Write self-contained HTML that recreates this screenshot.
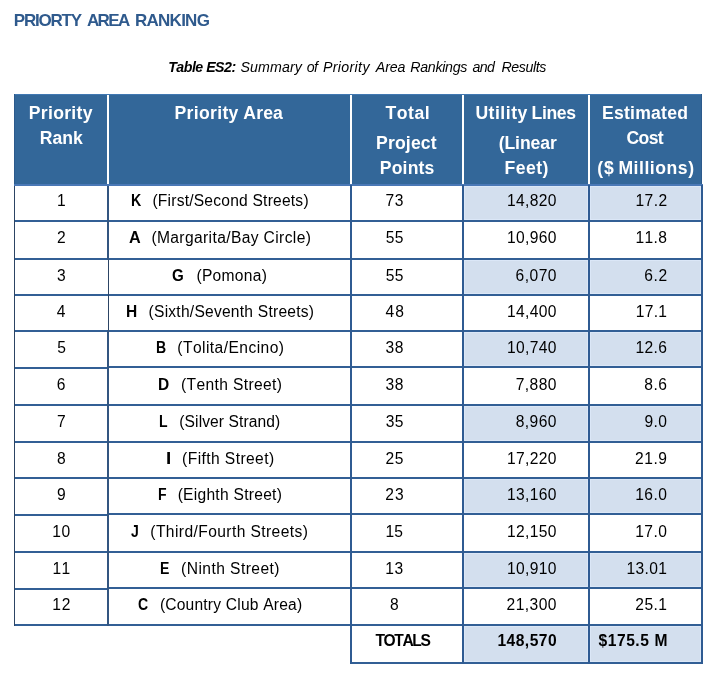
<!DOCTYPE html>
<html lang="en"><head><meta charset="utf-8"><title>Priority Area Ranking</title>
<style>
html,body{margin:0;padding:0;background:#fff}
body{width:715px;height:675px;position:relative;overflow:hidden;font-family:"Liberation Sans",sans-serif}
.b{position:absolute}
.s{background:#d3dfee;box-shadow:inset 0 0 0 1px #dbe7f7}
.t{position:absolute;white-space:pre;line-height:1;font-kerning:none}
</style></head><body>
<div class="b" style="left:14px;top:94px;width:688px;height:90px;background:#336799"></div>
<div class="b" style="left:14px;top:184px;width:689px;height:2px;background:#4a78b6"></div>
<div class="b" style="left:107px;top:94px;width:2px;height:90px;background:#fff"></div>
<div class="b" style="left:350px;top:94px;width:2px;height:90px;background:#fff"></div>
<div class="b" style="left:462px;top:94px;width:2px;height:90px;background:#fff"></div>
<div class="b" style="left:588px;top:94px;width:2px;height:90px;background:#fff"></div>
<div class="b" style="left:14px;top:94px;width:688px;height:1px;background:#4178b2"></div>
<div class="b" style="left:14px;top:94px;width:1px;height:90px;background:#2c5a8c"></div>
<div class="b" style="left:701px;top:94px;width:1px;height:90px;background:#2c5a8c"></div>
<div class="b s" style="left:464px;top:186px;width:124px;height:34px"></div>
<div class="b s" style="left:590px;top:186px;width:111px;height:34px"></div>
<div class="b s" style="left:464px;top:260px;width:124px;height:34px"></div>
<div class="b s" style="left:590px;top:260px;width:111px;height:34px"></div>
<div class="b s" style="left:464px;top:332px;width:124px;height:34px"></div>
<div class="b s" style="left:590px;top:332px;width:111px;height:34px"></div>
<div class="b s" style="left:464px;top:406px;width:124px;height:35px"></div>
<div class="b s" style="left:590px;top:406px;width:111px;height:35px"></div>
<div class="b s" style="left:464px;top:479px;width:124px;height:34px"></div>
<div class="b s" style="left:590px;top:479px;width:111px;height:34px"></div>
<div class="b s" style="left:464px;top:553px;width:124px;height:34px"></div>
<div class="b s" style="left:590px;top:553px;width:111px;height:34px"></div>
<div class="b s" style="left:464px;top:626px;width:124px;height:36px"></div>
<div class="b s" style="left:590px;top:626px;width:111px;height:36px"></div>
<div class="b" style="left:14px;top:220px;width:94px;height:2px;background:#325f95"></div>
<div class="b" style="left:108px;top:220px;width:595px;height:2px;background:#325f95"></div>
<div class="b" style="left:14px;top:258px;width:94px;height:2px;background:#325f95"></div>
<div class="b" style="left:108px;top:258px;width:595px;height:2px;background:#325f95"></div>
<div class="b" style="left:14px;top:294px;width:94px;height:2px;background:#325f95"></div>
<div class="b" style="left:108px;top:294px;width:595px;height:2px;background:#325f95"></div>
<div class="b" style="left:14px;top:330px;width:94px;height:2px;background:#325f95"></div>
<div class="b" style="left:108px;top:330px;width:595px;height:2px;background:#325f95"></div>
<div class="b" style="left:14px;top:367px;width:94px;height:2px;background:#325f95"></div>
<div class="b" style="left:108px;top:366px;width:595px;height:2px;background:#325f95"></div>
<div class="b" style="left:14px;top:404px;width:94px;height:2px;background:#325f95"></div>
<div class="b" style="left:108px;top:404px;width:595px;height:2px;background:#325f95"></div>
<div class="b" style="left:14px;top:441px;width:94px;height:2px;background:#325f95"></div>
<div class="b" style="left:108px;top:441px;width:595px;height:2px;background:#325f95"></div>
<div class="b" style="left:14px;top:477px;width:94px;height:2px;background:#325f95"></div>
<div class="b" style="left:108px;top:477px;width:595px;height:2px;background:#325f95"></div>
<div class="b" style="left:14px;top:514px;width:94px;height:2px;background:#325f95"></div>
<div class="b" style="left:108px;top:513px;width:595px;height:2px;background:#325f95"></div>
<div class="b" style="left:14px;top:551px;width:94px;height:2px;background:#325f95"></div>
<div class="b" style="left:108px;top:551px;width:595px;height:2px;background:#325f95"></div>
<div class="b" style="left:14px;top:588px;width:94px;height:2px;background:#325f95"></div>
<div class="b" style="left:108px;top:587px;width:595px;height:2px;background:#325f95"></div>
<div class="b" style="left:14px;top:624px;width:94px;height:2px;background:#325f95"></div>
<div class="b" style="left:108px;top:624px;width:595px;height:2px;background:#325f95"></div>
<div class="b" style="left:350px;top:662px;width:353px;height:2px;background:#325f95"></div>
<div class="b" style="left:14px;top:186px;width:1px;height:440px;background:#2c4464"></div>
<div class="b" style="left:107px;top:186px;width:2px;height:74px;background:#335580"></div>
<div class="b" style="left:108px;top:260px;width:1px;height:70px;background:#2c4464"></div>
<div class="b" style="left:107px;top:330px;width:2px;height:296px;background:#335580"></div>
<div class="b" style="left:350px;top:185px;width:2px;height:479px;background:#2f5b92"></div>
<div class="b" style="left:462px;top:185px;width:2px;height:479px;background:#2f5b92"></div>
<div class="b" style="left:588px;top:185px;width:2px;height:479px;background:#2f5b92"></div>
<div class="b" style="left:701px;top:185px;width:2px;height:479px;background:#2f5b92"></div>
<span class="t" style="left:13.78px;top:12px;font-size:17.0px;font-weight:700;letter-spacing:-1.217px;color:#2f5a8d">PRIORTY</span>
<span class="t" style="left:86.92px;top:12px;font-size:17.0px;font-weight:700;letter-spacing:-1.632px;color:#2f5a8d">AREA</span>
<span class="t" style="left:134.97px;top:12px;font-size:17.0px;font-weight:700;letter-spacing:-0.735px;color:#2f5a8d">RANKING</span>
<span class="t" style="left:168.20px;top:60px;font-size:14.2px;font-weight:700;font-style:italic;letter-spacing:-0.507px;color:#000">Table ES2:</span>
<span class="t" style="left:240.53px;top:60px;font-size:14.2px;font-style:italic;letter-spacing:0.112px;color:#000">Summary</span>
<span class="t" style="left:306.70px;top:60px;font-size:14.2px;font-style:italic;letter-spacing:-0.507px;color:#000">of</span>
<span class="t" style="left:322.93px;top:60px;font-size:14.2px;font-style:italic;letter-spacing:0.349px;color:#000">Priority</span>
<span class="t" style="left:375.82px;top:60px;font-size:14.2px;font-style:italic;letter-spacing:-0.090px;color:#000">Area</span>
<span class="t" style="left:410.23px;top:60px;font-size:14.2px;font-style:italic;letter-spacing:-0.283px;color:#000">Rankings</span>
<span class="t" style="left:472.55px;top:60px;font-size:14.2px;font-style:italic;letter-spacing:-0.684px;color:#000">and</span>
<span class="t" style="left:501.53px;top:60px;font-size:14.2px;font-style:italic;letter-spacing:-0.405px;color:#000">Results</span>
<span class="t" style="left:28.78px;top:105px;font-size:17.6px;font-weight:700;letter-spacing:0.308px;color:#fff">Priority</span>
<span class="t" style="left:39.78px;top:130px;font-size:17.6px;font-weight:700;letter-spacing:0.013px;color:#fff">Rank</span>
<span class="t" style="left:174.58px;top:105px;font-size:17.6px;font-weight:700;letter-spacing:0.308px;color:#fff">Priority</span>
<span class="t" style="left:243.30px;top:105px;font-size:17.6px;font-weight:700;letter-spacing:0.163px;color:#fff">Area</span>
<span class="t" style="left:385.48px;top:105px;font-size:17.6px;font-weight:700;letter-spacing:0.539px;color:#fff">Total</span>
<span class="t" style="left:376.08px;top:135px;font-size:17.6px;font-weight:700;letter-spacing:0.150px;color:#fff">Project</span>
<span class="t" style="left:379.78px;top:160px;font-size:17.6px;font-weight:700;letter-spacing:0.164px;color:#fff">Points</span>
<span class="t" style="left:475.40px;top:105px;font-size:17.6px;font-weight:700;letter-spacing:0.510px;color:#fff">Utility</span>
<span class="t" style="left:531.58px;top:105px;font-size:17.6px;font-weight:700;letter-spacing:-0.392px;color:#fff">Lines</span>
<span class="t" style="left:498.63px;top:135px;font-size:17.6px;font-weight:700;letter-spacing:-0.062px;color:#fff">(Linear</span>
<span class="t" style="left:504.38px;top:160px;font-size:17.6px;font-weight:700;letter-spacing:0.510px;color:#fff">Feet)</span>
<span class="t" style="left:602.08px;top:105px;font-size:17.6px;font-weight:700;letter-spacing:0.218px;color:#fff">Estimated</span>
<span class="t" style="left:626.45px;top:130px;font-size:17.6px;font-weight:700;letter-spacing:-0.606px;color:#fff">Cost</span>
<span class="t" style="left:597.23px;top:160px;font-size:17.6px;font-weight:700;letter-spacing:1.002px;color:#fff">($</span>
<span class="t" style="left:618.38px;top:160px;font-size:17.6px;font-weight:700;letter-spacing:0.540px;color:#fff">Millions)</span>
<span class="t" style="left:56.97px;top:193px;font-size:15.6px;letter-spacing:0.000px;color:#000">1</span>
<span class="t" style="left:130.99px;top:193px;font-size:15.6px;font-weight:700;transform:scaleX(0.910);transform-origin:0 0;color:#000">K</span>
<span class="t" style="left:152.40px;top:193px;font-size:15.6px;letter-spacing:0.216px;color:#000">(First/Second Streets)</span>
<span class="t" style="left:385.39px;top:193px;font-size:15.6px;letter-spacing:0.800px;color:#000">73</span>
<span class="t" style="left:506.88px;top:193px;font-size:15.6px;letter-spacing:0.395px;color:#000">14,820</span>
<span class="t" style="left:635.51px;top:193px;font-size:15.6px;letter-spacing:0.413px;color:#000">17.2</span>
<span class="t" style="left:56.89px;top:230px;font-size:15.6px;letter-spacing:0.000px;color:#000">2</span>
<span class="t" style="left:129.11px;top:230px;font-size:15.6px;font-weight:700;transform:scaleX(1.040);transform-origin:0 0;color:#000">A</span>
<span class="t" style="left:151.40px;top:230px;font-size:15.6px;letter-spacing:0.374px;color:#000">(Margarita/Bay Circle)</span>
<span class="t" style="left:385.71px;top:230px;font-size:15.6px;letter-spacing:0.289px;color:#000">55</span>
<span class="t" style="left:506.88px;top:230px;font-size:15.6px;letter-spacing:0.395px;color:#000">10,960</span>
<span class="t" style="left:635.51px;top:230px;font-size:15.6px;letter-spacing:0.372px;color:#000">11.8</span>
<span class="t" style="left:57.08px;top:268px;font-size:15.6px;letter-spacing:0.000px;color:#000">3</span>
<span class="t" style="left:172.19px;top:268px;font-size:15.6px;font-weight:700;transform:scaleX(0.971);transform-origin:0 0;color:#000">G</span>
<span class="t" style="left:196.40px;top:268px;font-size:15.6px;letter-spacing:0.294px;color:#000">(Pomona)</span>
<span class="t" style="left:385.71px;top:268px;font-size:15.6px;letter-spacing:0.289px;color:#000">55</span>
<span class="t" style="left:515.53px;top:268px;font-size:15.6px;letter-spacing:0.500px;color:#000">6,070</span>
<span class="t" style="left:644.29px;top:268px;font-size:15.6px;letter-spacing:0.569px;color:#000">6.2</span>
<span class="t" style="left:56.82px;top:304px;font-size:15.6px;letter-spacing:0.000px;color:#000">4</span>
<span class="t" style="left:125.81px;top:304px;font-size:15.6px;font-weight:700;transform:scaleX(0.996);transform-origin:0 0;color:#000">H</span>
<span class="t" style="left:148.60px;top:304px;font-size:15.6px;letter-spacing:0.229px;color:#000">(Sixth/Seventh Streets)</span>
<span class="t" style="left:385.45px;top:304px;font-size:15.6px;letter-spacing:1.068px;color:#000">48</span>
<span class="t" style="left:506.88px;top:304px;font-size:15.6px;letter-spacing:0.395px;color:#000">14,400</span>
<span class="t" style="left:635.64px;top:304px;font-size:15.6px;letter-spacing:0.329px;color:#000">17.1</span>
<span class="t" style="left:57.28px;top:340px;font-size:15.6px;letter-spacing:0.000px;color:#000">5</span>
<span class="t" style="left:155.53px;top:340px;font-size:15.6px;font-weight:700;transform:scaleX(0.900);transform-origin:0 0;color:#000">B</span>
<span class="t" style="left:177.30px;top:340px;font-size:15.6px;letter-spacing:0.442px;color:#000">(Tolita/Encino)</span>
<span class="t" style="left:385.52px;top:340px;font-size:15.6px;letter-spacing:0.675px;color:#000">38</span>
<span class="t" style="left:506.88px;top:340px;font-size:15.6px;letter-spacing:0.395px;color:#000">10,740</span>
<span class="t" style="left:635.38px;top:340px;font-size:15.6px;letter-spacing:0.414px;color:#000">12.6</span>
<span class="t" style="left:56.83px;top:377px;font-size:15.6px;letter-spacing:0.000px;color:#000">6</span>
<span class="t" style="left:158.21px;top:377px;font-size:15.6px;font-weight:700;transform:scaleX(0.994);transform-origin:0 0;color:#000">D</span>
<span class="t" style="left:181.06px;top:377px;font-size:15.6px;letter-spacing:0.358px;color:#000">(Tenth Street)</span>
<span class="t" style="left:385.52px;top:377px;font-size:15.6px;letter-spacing:0.675px;color:#000">38</span>
<span class="t" style="left:515.65px;top:377px;font-size:15.6px;letter-spacing:0.468px;color:#000">7,880</span>
<span class="t" style="left:644.29px;top:377px;font-size:15.6px;letter-spacing:0.508px;color:#000">8.6</span>
<span class="t" style="left:56.89px;top:414px;font-size:15.6px;letter-spacing:0.000px;color:#000">7</span>
<span class="t" style="left:159.10px;top:414px;font-size:15.6px;font-weight:700;transform:scaleX(0.900);transform-origin:0 0;color:#000">L</span>
<span class="t" style="left:179.35px;top:414px;font-size:15.6px;letter-spacing:0.086px;color:#000">(Silver Strand)</span>
<span class="t" style="left:385.71px;top:414px;font-size:15.6px;letter-spacing:0.289px;color:#000">35</span>
<span class="t" style="left:515.65px;top:414px;font-size:15.6px;letter-spacing:0.469px;color:#000">8,960</span>
<span class="t" style="left:644.42px;top:414px;font-size:15.6px;letter-spacing:0.381px;color:#000">9.0</span>
<span class="t" style="left:57.02px;top:451px;font-size:15.6px;letter-spacing:0.000px;color:#000">8</span>
<span class="t" style="left:165.50px;top:451px;font-size:15.6px;font-weight:700;transform:scaleX(1.202);transform-origin:0 0;color:#000">I</span>
<span class="t" style="left:182.10px;top:451px;font-size:15.6px;letter-spacing:0.413px;color:#000">(Fifth Street)</span>
<span class="t" style="left:385.52px;top:451px;font-size:15.6px;letter-spacing:0.543px;color:#000">25</span>
<span class="t" style="left:506.88px;top:451px;font-size:15.6px;letter-spacing:0.395px;color:#000">17,220</span>
<span class="t" style="left:634.99px;top:451px;font-size:15.6px;letter-spacing:0.544px;color:#000">21.9</span>
<span class="t" style="left:57.02px;top:487px;font-size:15.6px;letter-spacing:0.000px;color:#000">9</span>
<span class="t" style="left:157.76px;top:487px;font-size:15.6px;font-weight:700;transform:scaleX(0.900);transform-origin:0 0;color:#000">F</span>
<span class="t" style="left:177.65px;top:487px;font-size:15.6px;letter-spacing:0.266px;color:#000">(Eighth Street)</span>
<span class="t" style="left:385.33px;top:487px;font-size:15.6px;letter-spacing:0.928px;color:#000">23</span>
<span class="t" style="left:506.88px;top:487px;font-size:15.6px;letter-spacing:0.395px;color:#000">13,160</span>
<span class="t" style="left:635.26px;top:487px;font-size:15.6px;letter-spacing:0.415px;color:#000">16.0</span>
<span class="t" style="left:52.21px;top:524px;font-size:15.6px;letter-spacing:0.664px;color:#000">10</span>
<span class="t" style="left:131.26px;top:524px;font-size:15.6px;font-weight:700;transform:scaleX(0.900);transform-origin:0 0;color:#000">J</span>
<span class="t" style="left:150.30px;top:524px;font-size:15.6px;letter-spacing:0.407px;color:#000">(Third/Fourth Streets)</span>
<span class="t" style="left:385.53px;top:524px;font-size:15.6px;letter-spacing:0.146px;color:#000">15</span>
<span class="t" style="left:506.88px;top:524px;font-size:15.6px;letter-spacing:0.395px;color:#000">12,150</span>
<span class="t" style="left:635.26px;top:524px;font-size:15.6px;letter-spacing:0.415px;color:#000">17.0</span>
<span class="t" style="left:52.41px;top:561px;font-size:15.6px;letter-spacing:0.403px;color:#000">11</span>
<span class="t" style="left:160.11px;top:561px;font-size:15.6px;font-weight:700;transform:scaleX(0.900);transform-origin:0 0;color:#000">E</span>
<span class="t" style="left:181.06px;top:561px;font-size:15.6px;letter-spacing:0.444px;color:#000">(Ninth Street)</span>
<span class="t" style="left:385.34px;top:561px;font-size:15.6px;letter-spacing:0.531px;color:#000">13</span>
<span class="t" style="left:506.88px;top:561px;font-size:15.6px;letter-spacing:0.395px;color:#000">10,910</span>
<span class="t" style="left:626.60px;top:561px;font-size:15.6px;letter-spacing:0.338px;color:#000">13.01</span>
<span class="t" style="left:52.34px;top:597px;font-size:15.6px;letter-spacing:0.656px;color:#000">12</span>
<span class="t" style="left:138.48px;top:597px;font-size:15.6px;font-weight:700;transform:scaleX(0.900);transform-origin:0 0;color:#000">C</span>
<span class="t" style="left:159.90px;top:597px;font-size:15.6px;letter-spacing:0.196px;color:#000">(Country Club Area)</span>
<span class="t" style="left:390.02px;top:597px;font-size:15.6px;letter-spacing:0.000px;color:#000">8</span>
<span class="t" style="left:506.49px;top:597px;font-size:15.6px;letter-spacing:0.473px;color:#000">21,300</span>
<span class="t" style="left:635.25px;top:597px;font-size:15.6px;letter-spacing:0.459px;color:#000">25.1</span>
<span class="t" style="left:375.38px;top:633px;font-size:15.6px;font-weight:700;letter-spacing:-1.365px;color:#000">TOTALS</span>
<span class="t" style="left:497.40px;top:633px;font-size:15.6px;font-weight:700;letter-spacing:0.483px;color:#000">148,570</span>
<span class="t" style="left:598.45px;top:633px;font-size:15.6px;font-weight:700;letter-spacing:0.560px;color:#000">$175.5 M</span>
</body></html>
